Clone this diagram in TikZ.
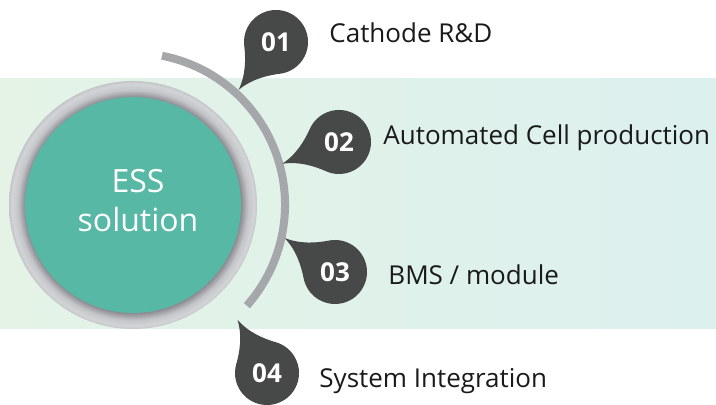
\documentclass[tikz,border=0pt]{standalone}
\usepackage{fontspec}
\setmainfont{Open Sans}
\definecolor{bandleft}{HTML}{E4F3E6}
\definecolor{bandright}{HTML}{DCF0EE}
\definecolor{essteal}{HTML}{56B8A5}
\definecolor{arcgray}{HTML}{A6A7AB}
\definecolor{dropgray}{HTML}{474948}
\definecolor{labelblack}{HTML}{1A1A1A}
\definecolor{ringlight}{HTML}{D3D4D7}
\definecolor{ringmid}{HTML}{C4C5C8}
\definecolor{ringdark}{HTML}{8C8C92}
\pgfdeclareradialshading{ring}{\pgfpoint{0bp}{0bp}}{color(0bp)=(ringdark); color(21.8bp)=(ringdark); color(23.2bp)=(ringmid); color(24.4bp)=(ringlight); color(25bp)=(ringmid); color(50bp)=(ringmid)}
\tikzset{
  numtext/.style={text=white, font=\fontsize{13}{15}\selectfont\bfseries, inner sep=0pt},
  steptext/.style={text=labelblack, font=\fontsize{13}{15}\selectfont, inner sep=0pt, anchor=base west},
}
\newcommand{\drop}[4]{\fill[dropgray, shift={(#1,#2)}, rotate=#3] (-43,-43) .. controls (-34,-29) and (-32,-13) .. (-32,0) arc[start angle=180, end angle=-90, radius=32] .. controls (-13,-32) and (-29,-34) .. (-43,-43) -- cycle; \node[numtext] (n#4) at (#1,#2) {#4};}

\begin{document}
\begin{tikzpicture}[x=0.5pt, y=0.5pt]
        \useasboundingbox (0,0) rectangle (716,405);
        % band
        \shade[left color=bandleft, right color=bandright] (0,76) rectangle (716,326);
        % centre
        \shade[shading=ring] (133,200) circle[radius=124];
        \fill[essteal] (133,200) circle[radius=108];
        \node[text=white, font=\fontsize{16}{19.5}\selectfont, align=center] (ess) at (138,204) {ESS\\solution};
        % arc
        \draw[arcgray, line width=4] (133,200) ++(79:152) arc[start angle=79, end angle=-41.5, radius=152];
        % drops
        \drop{276}{363}{7}{01}
        \drop{339}{263}{-24}{02}
        \drop{335}{133}{-79}{03}
        \drop{267}{32}{-106}{04}
        % labels
        \node[steptext] (t01) at (329,362) {Cathode R\&D};
        \node[steptext] (t02) at (383,260) {Automated Cell production};
        \node[steptext] (t03) at (388,120) {BMS / module};
        \node[steptext] (t04) at (319,17) {System Integration};
\end{tikzpicture}
\end{document}
